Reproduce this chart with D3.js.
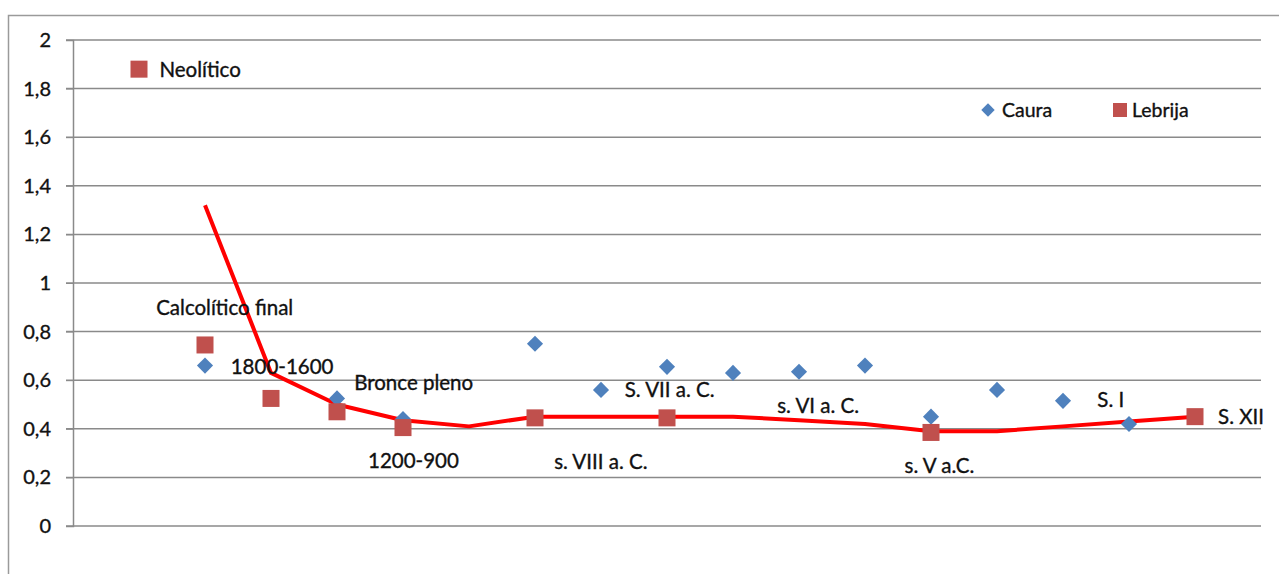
<!DOCTYPE html>
<html>
<head>
<meta charset="utf-8">
<script src="https://cdn.jsdelivr.net/npm/d3@7"></script>
<style type="text/css">
body { margin: 0; background: #fff; }
text { font-family: Lato, "Open Sans", sans-serif; fill: #111; stroke: #111; stroke-width: 0.35; }
.grid line { stroke: #8a8a8a; stroke-width: 1.5; }
.trend { fill: none; stroke: #ff0000; stroke-width: 4; stroke-linejoin: round; }
</style>
</head>
<body>
<div id="chart"></div>
<script>

// category slots 1..17 along the x axis
var slots = d3.range(1, 18);

// Caura (blue diamonds)
var caura = [null, 0.66, null, 0.525, 0.44, null, 0.75, 0.56, 0.655, 0.63, 0.635, 0.66, 0.45, 0.56, 0.515, 0.42, null];

// Lebrija (red squares)
var lebrija = [1.88, 0.745, 0.525, 0.47, 0.405, null, 0.445, null, 0.445, null, null, null, 0.385, null, null, null, 0.45];

// red trend line
var trend = [null, 1.32, 0.63, 0.50, 0.435, 0.41, 0.45, 0.45, 0.45, 0.45, 0.435, 0.42, 0.39, 0.39, 0.41, 0.43, 0.45];

// y ticks
var yTicks = [0, 0.2, 0.4, 0.6, 0.8, 1, 1.2, 1.4, 1.6, 1.8, 2];

// period labels (placed in data units: slot, value)
var labelText = ["Neolítico", "Calcolítico final", "1800-1600", "Bronce pleno", "1200-900", "s. VIII a. C.", "S. VII a. C.", "s. VI a. C.", "s. V a.C.", "S. I", "S. XII"];
var labelSlot = [1.31, 1.26, 2.39, 4.26, 4.47, 7.29, 8.36, 10.67, 12.6, 15.52, 17.35];
var labelValue = [1.877, 0.897, 0.654, 0.588, 0.267, 0.263, 0.56, 0.494, 0.247, 0.519, 0.449];

var W = 1279, H = 574;
var margin = {top: 40, right: 18, bottom: 48, left: 73};
var width = 1261 - margin.left, height = 526 - margin.top;

var svg = d3.select("#chart").append("svg")
	.attr("width", W).attr("height", H);

// outer chart frame (top and left edges visible)
svg.append("path")
	.attr("d", "M8.5," + H + "V15.5H" + W)
	.attr("fill", "none").attr("stroke", "#9a9a9a").attr("stroke-width", 1.5);

var g = svg.append("g").attr("transform", "translate(" + margin.left + "," + margin.top + ")");

var x = d3.scaleLinear().domain([0, 18]).range([0, width]);
var y = d3.scaleLinear().domain([0, 2]).range([height, 0]);

// gridlines
g.append("g").attr("class", "grid")
	.selectAll("line").data(yTicks).enter().append("line")
	.attr("x1", -7).attr("x2", width)
	.attr("y1", function(d) { return y(d); }).attr("y2", function(d) { return y(d); });

// y axis
var yAxis = g.append("g")
	.call(d3.axisLeft(y).tickValues(yTicks).tickSize(7).tickPadding(15)
		.tickFormat(function(d) { return String(d).replace(".", ","); }));
yAxis.select(".domain").attr("stroke", "#8a8a8a").attr("stroke-width", 1.5);
yAxis.selectAll(".tick line").attr("stroke", "#8a8a8a");
yAxis.selectAll(".tick text").style("font-size", "20px").style("font-family", "Lato, sans-serif").attr("fill", "#111");

// trend line
var line = d3.line()
	.defined(function(d) { return d != null; })
	.x(function(d, i) { return x(slots[i]); })
	.y(function(d) { return y(d); });
g.append("path").datum(trend).attr("class", "trend").attr("d", line);

// Caura diamonds
var diamond = d3.symbol().type(d3.symbolSquare).size(130);
g.selectAll("path.caura").data(slots.filter(function(s, i) { return caura[i] != null; }))
	.enter().append("path").attr("class", "caura")
	.attr("d", diamond)
	.attr("fill", "#4f81bd")
	.attr("transform", function(s) { return "translate(" + x(s) + "," + y(caura[s - 1]) + ") rotate(45)"; });

// Lebrija squares
g.selectAll("rect.lebrija").data(slots.filter(function(s, i) { return lebrija[i] != null; }))
	.enter().append("rect").attr("class", "lebrija")
	.attr("x", function(s) { return x(s) - 8.5; })
	.attr("y", function(s) { return y(lebrija[s - 1]) - 8.5; })
	.attr("width", 17).attr("height", 17)
	.attr("fill", "#c0504d");

// period labels
g.selectAll("text.lab").data(labelText).enter().append("text")
	.attr("class", "lab")
	.attr("x", function(d, i) { return x(labelSlot[i]); })
	.attr("y", function(d, i) { return y(labelValue[i]); })
	.attr("dy", "0.36em")
	.style("font-size", "20.5px")
	.text(function(d) { return d; });

// legend
var leg = g.append("g").attr("transform", "translate(0," + (110 - margin.top) + ")");
leg.append("path").attr("d", d3.symbol().type(d3.symbolSquare).size(90))
	.attr("fill", "#4f81bd")
	.attr("transform", "translate(" + (988 - margin.left) + ",0) rotate(45)");
leg.append("text").attr("x", 1002 - margin.left).attr("dy", "0.36em").style("font-size", "19.5px").text("Caura");
leg.append("rect").attr("x", 1113 - margin.left).attr("y", -7).attr("width", 14).attr("height", 14).attr("fill", "#c0504d");
leg.append("text").attr("x", 1132 - margin.left).attr("dy", "0.36em").style("font-size", "19.5px").text("Lebrija");

</script>
</body>
</html>
